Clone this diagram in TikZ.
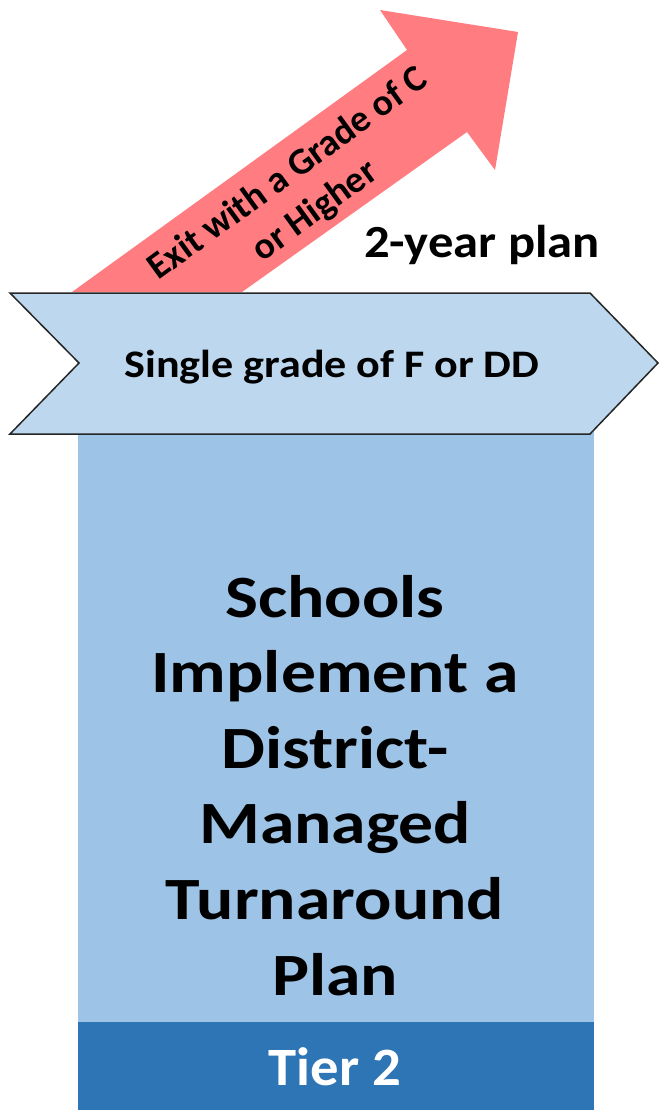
\documentclass[tikz,border=0pt]{standalone}
\usepackage{fontspec}
\setmainfont{Carlito}
\definecolor{arrowred}{HTML}{FF7C80}
\definecolor{chevfill}{HTML}{BDD7EE}
\definecolor{boxlight}{HTML}{9DC3E6}
\definecolor{boxdark}{HTML}{2E75B6}
\begin{document}
\begin{tikzpicture}[x=1pt,y=-1pt,
  txt/.style={inner sep=0pt, outer sep=0pt, font=\bfseries},
]
\useasboundingbox (0,0) rectangle (660,1110);
% main box
\fill[boxlight] (78,430) rectangle (594,1022);
\fill[boxdark] (78,1022) rectangle (594,1110);
% red arrow
\fill[arrowred] (72,292) -- (407,50) -- (380,10) -- (518,32) -- (495,170) -- (467,132) -- (242,292) -- cycle;
% chevron
\filldraw[fill=chevfill, draw=black!85, line width=1.5pt, line join=miter]
  (10,293) -- (590,293) -- (658,363) -- (590,434) -- (10,434) -- (79,363) -- cycle;
% texts
\node[txt, anchor=center, rotate=36, align=center, font=\bfseries\fontsize{37.5}{46}\selectfont] (exit) at (302,193) {Exit with a Grade of C\\or Higher};
\node[txt, anchor=base, xscale=1.10, font=\bfseries\fontsize{46}{55}\selectfont] (plan) at (482,257) {2-year plan};
\node[txt, anchor=base, xscale=1.13, font=\bfseries\fontsize{39}{47}\selectfont] (single) at (332,377) {Single grade of F or DD};
\node[txt, anchor=north, align=center, xscale=1.16, font=\bfseries\fontsize{60}{75.6}\selectfont] (title) at (335,575) {Schools\\Implement a\\District-\\Managed\\Turnaround\\Plan};
\node[txt, anchor=base, xscale=1.05, text=white, font=\bfseries\fontsize{54}{64}\selectfont] (tier) at (335,1085) {Tier 2};
\end{tikzpicture}
\end{document}
